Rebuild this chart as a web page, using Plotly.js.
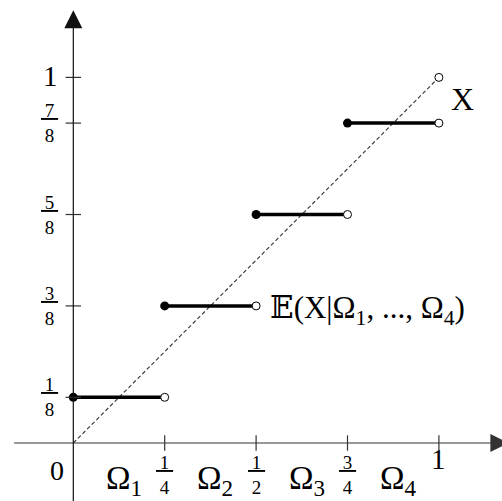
<!DOCTYPE html>
<html>
<head>
<meta charset="utf-8">
<script src="https://cdn.plot.ly/plotly-3.0.1.min.js"></script>
<style>html,body{margin:0;padding:0;background:#fff;}#chart{width:502px;height:501px;}</style>
</head>
<body>
<div id="chart"></div>
<script>
// ---- data ----
const stepStarts = [0, 0.25, 0.5, 0.75];
const stepEnds = [0.25, 0.5, 0.75, 1];
const stepValues = [0.125, 0.375, 0.625, 0.875];
const diagX = [0, 1];
const diagY = [0, 1];
const xTickVals = [0.25, 0.5, 0.75, 1];
const xTickLabels = [["1","4"], ["1","2"], ["3","4"], ["1"]];
const yTickVals = [0.125, 0.375, 0.625, 0.875, 1];
const yTickLabels = [["1","8"], ["3","8"], ["5","8"], ["7","8"], ["1"]];
const omegaCenters = [0.125, 0.375, 0.625, 0.875];
const omegaLabels = ["Ω<sub>1</sub>", "Ω<sub>2</sub>", "Ω<sub>3</sub>", "Ω<sub>4</sub>"];
const xLabel = "X";
const eLabel = "𝔼(X|Ω<sub>1</sub>, ..., Ω<sub>4</sub>)";

const FONT = "Liberation Serif, DejaVu Serif, serif";

function fracText(parts) {
  return parts.length === 2 ? "<u>&#8201;" + parts[0] + "&#8201;</u><br>" + parts[1] : parts[0];
}

// step lines
const lx = [], ly = [];
stepStarts.forEach((s, i) => { lx.push(s, stepEnds[i], null); ly.push(stepValues[i], stepValues[i], null); });

const traces = [
  { x: diagX, y: diagY, mode: "lines", line: { color: "#333", width: 1.1, dash: "4px,2.5px" }, hoverinfo: "skip" },
  { x: lx, y: ly, mode: "lines", line: { color: "#000", width: 3.5 }, hoverinfo: "skip" },
  { x: stepStarts, y: stepValues, mode: "markers", marker: { color: "#000", size: 9, symbol: "circle" }, hoverinfo: "skip" },
  { x: stepEnds.concat([diagX[1]]), y: stepValues.concat([diagY[1]]), mode: "markers",
    marker: { color: "#fff", size: 8, symbol: "circle", line: { color: "#000", width: 1 } }, hoverinfo: "skip" },
  // tick marks
  { x: xTickVals, y: xTickVals.map(() => 0), mode: "markers", cliponaxis: false,
    marker: { symbol: "line-ns", size: 11, line: { color: "#333", width: 1.2 } }, hoverinfo: "skip" },
  { x: yTickVals.map(() => 0), y: yTickVals, mode: "markers", cliponaxis: false,
    marker: { symbol: "line-ew", size: 11, line: { color: "#333", width: 1.2 } }, hoverinfo: "skip" }
];

const annotations = [];
// axes with arrowheads
annotations.push({ x: 1.19, y: 0, ax: -0.166, ay: 0, xref: "x", yref: "y", axref: "x", ayref: "y", text: "",
  showarrow: true, arrowhead: 2, arrowsize: 3, arrowwidth: 1.2, arrowcolor: "#333", standoff: 0 });
annotations.push({ x: 0, y: 1.184, ax: 0, ay: -0.2, xref: "x", yref: "y", axref: "x", ayref: "y", text: "",
  showarrow: true, arrowhead: 2, arrowsize: 3, arrowwidth: 1.2, arrowcolor: "#111", standoff: 0 });

// y tick labels
yTickVals.forEach((v, i) => {
  const p = yTickLabels[i];
  annotations.push({ x: 0, y: v, xref: "x", yref: "y", xshift: p.length === 2 ? -24 : -23, yshift: p.length === 2 ? 0 : 1, xanchor: "center", yanchor: "middle",
    text: fracText(p), showarrow: false, font: { family: FONT, size: p.length === 2 ? 19 : 29, color: "#000" } });
});
// x tick labels
xTickVals.forEach((v, i) => {
  const p = xTickLabels[i];
  annotations.push({ x: v, y: 0, xref: "x", yref: "y", yshift: p.length === 2 ? -32 : -16, xanchor: "center", yanchor: "middle",
    text: fracText(p), showarrow: false, font: { family: FONT, size: p.length === 2 ? 19 : 29, color: "#000" } });
});
// origin label
annotations.push({ x: 0, y: 0, xref: "x", yref: "y", xshift: -16, yshift: -27, xanchor: "center", yanchor: "middle",
  text: "0", showarrow: false, font: { family: FONT, size: 28, color: "#000" } });
// omega labels
omegaCenters.forEach((c, i) => {
  annotations.push({ x: c, y: 0, xref: "x", yref: "y", xshift: 5, yshift: -60, xanchor: "center", yanchor: "bottom",
    text: omegaLabels[i], showarrow: false, font: { family: FONT, size: 33, color: "#000" } });
});
// X label
annotations.push({ x: diagX[1], y: diagY[1], xref: "x", yref: "y", xshift: 24, yshift: -22, xanchor: "center", yanchor: "middle",
  text: xLabel, showarrow: false, font: { family: FONT, size: 32, color: "#000" } });
// E label
annotations.push({ x: stepEnds[1], y: stepValues[1], xref: "x", yref: "y", xshift: 12, yshift: -4, xanchor: "left", yanchor: "middle",
  text: eLabel, showarrow: false, font: { family: FONT, size: 31, color: "#000" } });

const layout = {
  width: 502, height: 501,
  margin: { l: 0, r: 0, t: 0, b: 0, pad: 0 },
  paper_bgcolor: "#fff", plot_bgcolor: "#fff",
  showlegend: false,
  xaxis: { range: [-0.2005, 1.1726], visible: false, showgrid: false, zeroline: false, fixedrange: true },
  yaxis: { range: [-0.1586, 1.2117], visible: false, showgrid: false, zeroline: false, fixedrange: true },
  annotations: annotations
};

Plotly.newPlot("chart", traces, layout, { staticPlot: true, displayModeBar: false });
</script>
</body>
</html>
